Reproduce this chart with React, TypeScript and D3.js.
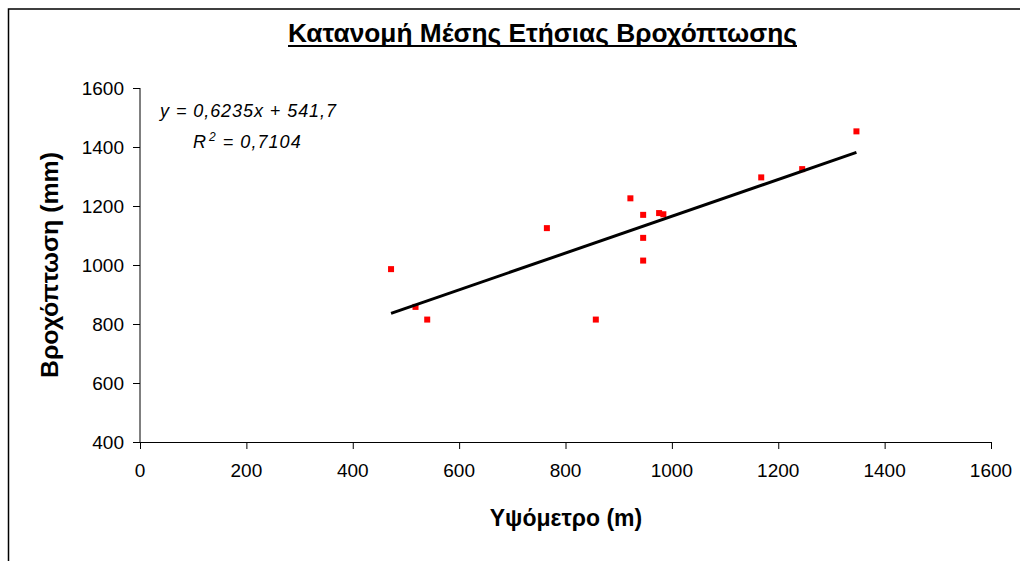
import React from 'react';
import * as d3 from 'd3';

// elevation (m) vs mean annual rainfall (mm), one entry per station
const elevation = [472, 518, 540, 765, 857, 922, 946, 946, 946, 976, 984, 1168, 1245, 1347];
const rainfall = [986, 858, 815, 1125, 815, 1226, 1170, 1092, 1015, 1176, 1172, 1297, 1325, 1453];

const xTicks = [0, 200, 400, 600, 800, 1000, 1200, 1400, 1600];
const yTicks = [400, 600, 800, 1000, 1200, 1400, 1600];

const trendSlope = 0.6235;
const trendIntercept = 541.7;

const title = 'Κατανομή Μέσης Ετήσιας Βροχόπτωσης';
const xTitle = 'Υψόμετρο (m)';
const yTitle = 'Βροχόπτωση (mm)';

const W = 1020;
const H = 561;
const font = '"Liberation Sans", Arial, sans-serif';

const App: React.FC = () => {
  const x = d3.scaleLinear().domain([0, 1600]).range([140, 991]);
  const y = d3.scaleLinear().domain([400, 1600]).range([442, 88]);

  const [x0, x1] = d3.extent(elevation) as [number, number];
  const trend = d3.line<number>()
    .x(d => x(d))
    .y(d => y(trendSlope * d + trendIntercept));

  return (
    <div style={{ position: 'absolute', left: 0, top: 0 }}>
      <svg width={W} height={H} style={{ display: 'block', background: '#fff' }} fontFamily={font}>
        {/* outer chart frame, only top/left visible */}
        <rect x={8.5} y={9} width={1200} height={800} fill="#fff" stroke="#000" strokeWidth={1.5} />

        <text x={288} y={42} fontSize={26} fontWeight="bold" textLength={509} lengthAdjust="spacingAndGlyphs">{title}</text>
        <line x1={288} x2={797} y1={46} y2={46} stroke="#000" strokeWidth={2} />

        {/* axes */}
        <line x1={x(0)} x2={x(0)} y1={y(1600)} y2={y(400)} stroke="#000" />
        <line x1={x(0)} x2={x(1600)} y1={y(400) + 0.5} y2={y(400) + 0.5} stroke="#000" />
        {yTicks.map(t => (
          <g key={'y' + t}>
            <line x1={x(0) - 7} x2={x(0)} y1={y(t) + 0.5} y2={y(t) + 0.5} stroke="#000" />
            <text x={124} y={y(t)} dy="0.35em" textAnchor="end" fontSize={19}>{t}</text>
          </g>
        ))}
        {xTicks.map(t => (
          <g key={'x' + t}>
            <line x1={x(t) + 0.5} x2={x(t) + 0.5} y1={y(400)} y2={y(400) + 7} stroke="#000" />
            <text x={x(t)} y={470} dy="0.35em" textAnchor="middle" fontSize={19}>{t}</text>
          </g>
        ))}

        <text x={566} y={526} textAnchor="middle" fontSize={23} fontWeight="bold">{xTitle}</text>
        <text transform="translate(58,265) rotate(-90)" textAnchor="middle" fontSize={23} fontWeight="bold" textLength={226} lengthAdjust="spacingAndGlyphs">{yTitle}</text>

        {/* points */}
        {elevation.map((e, i) => (
          <rect key={i} x={x(e) - 3} y={y(rainfall[i]) - 3} width={6} height={6} fill="#ff0000" />
        ))}

        {/* linear trend */}
        <path d={trend([x0, x1]) || ''} fill="none" stroke="#000" strokeWidth={3} />

        <text x={160} y={117} fontSize={18} fontStyle="italic" textLength={176} lengthAdjust="spacing">
          y = 0,6235x + 541,7
        </text>
        <text x={193} y={148} fontSize={18} fontStyle="italic">
          R<tspan dx={3} dy={-7} fontSize={12}>2</tspan><tspan dx={1} dy={7} textLength={84} lengthAdjust="spacing"> = 0,7104</tspan>
        </text>
      </svg>
    </div>
  );
};

export default App;
